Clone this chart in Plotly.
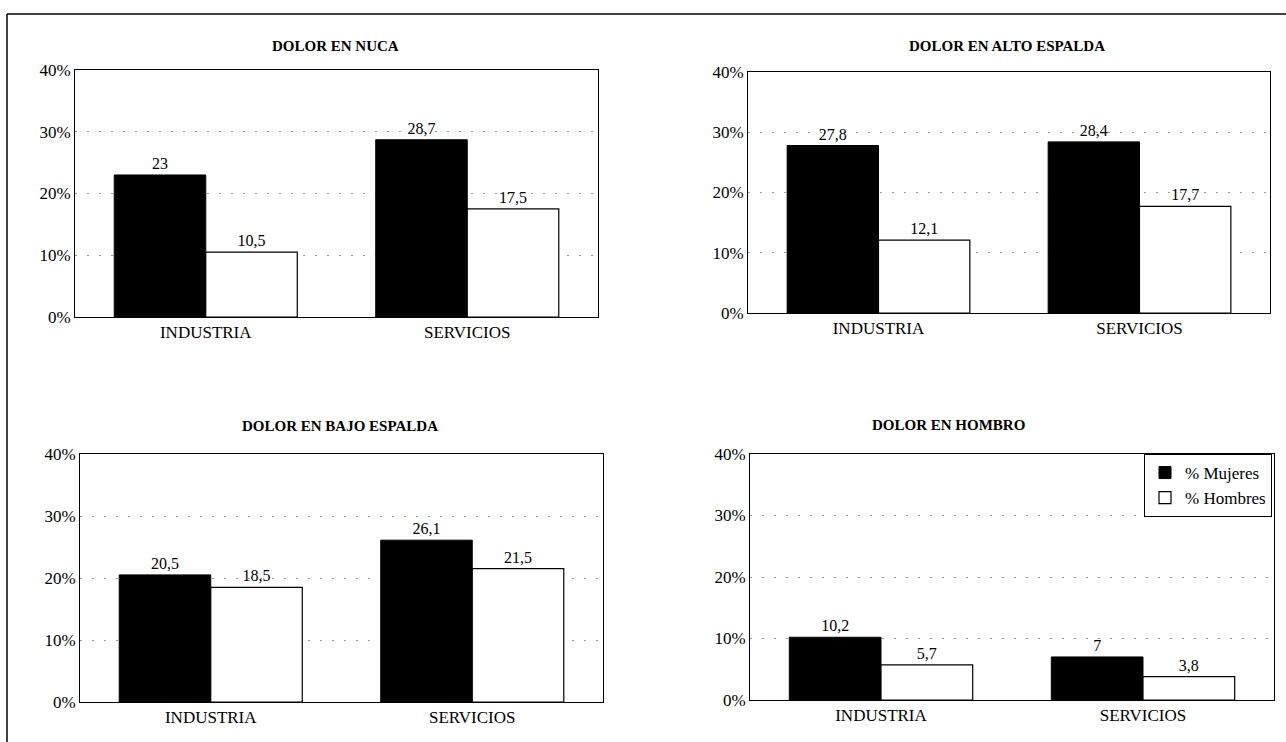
import plotly.graph_objects as go

W, H = 1286, 742

categories = ["INDUSTRIA", "SERVICIOS"]
panel_titles = ["DOLOR EN NUCA", "DOLOR EN ALTO ESPALDA", "DOLOR EN BAJO ESPALDA", "DOLOR EN HOMBRO"]
series_names = ["% Mujeres", "% Hombres"]

mujeres_nuca = [23, 28.7]
hombres_nuca = [10.5, 17.5]
mujeres_alto = [27.8, 28.4]
hombres_alto = [12.1, 17.7]
mujeres_bajo = [20.5, 26.1]
hombres_bajo = [18.5, 21.5]
mujeres_hombro = [10.2, 7]
hombres_hombro = [5.7, 3.8]

y_ticks = [0, 10, 20, 30, 40]
y_tick_labels = ["0%", "10%", "20%", "30%", "40%"]

panels = [
    (mujeres_nuca, hombres_nuca),
    (mujeres_alto, hombres_alto),
    (mujeres_bajo, hombres_bajo),
    (mujeres_hombro, hombres_hombro),
]

# pixel boxes: (left, right, top, bottom)
boxes = [
    (75, 598, 70, 317),
    (748, 1270, 72, 313),
    (80, 603, 454, 702),
    (750, 1274, 454, 700),
]
title_pos = [(335, 46), (1007, 46), (340, 426), (948, 425)]

FONT = "Liberation Serif, Times New Roman, serif"


def fmt(v):
    return f"{v:g}".replace(".", ",")


fig = go.Figure()
for i, (muj, hom) in enumerate(panels):
    ax = "" if i == 0 else str(i + 1)
    common = dict(xaxis="x" + ax, yaxis="y" + ax, textposition="outside",
                  cliponaxis=False, textfont=dict(family=FONT, size=16, color="black"),
                  showlegend=(i == 3))
    fig.add_trace(go.Bar(x=categories, y=muj, name=series_names[0],
                         text=[fmt(v) for v in muj],
                         marker=dict(color="black", line=dict(color="black", width=1)),
                         **common))
    fig.add_trace(go.Bar(x=categories, y=hom, name=series_names[1],
                         text=[fmt(v) for v in hom],
                         marker=dict(color="white", line=dict(color="black", width=1.2)),
                         **common))
    l, r, t, b = boxes[i]
    fig.update_layout(**{
        "xaxis" + ax: dict(domain=[l / W, r / W], anchor="y" + ax, automargin=False,
                           showline=True, linecolor="black", linewidth=1, mirror=True,
                           ticks="", showgrid=False,
                           tickfont=dict(family=FONT, size=17, color="black")),
        "yaxis" + ax: dict(domain=[1 - b / H, 1 - t / H], anchor="x" + ax, automargin=False,
                           range=[0, 40], tickmode="array", tickvals=y_ticks,
                           ticktext=y_tick_labels,
                           showline=True, linecolor="black", linewidth=1, mirror=True,
                           ticks="", showgrid=True, gridcolor="#999999", griddash="2px,10px",
                           gridwidth=1, zeroline=False,
                           tickfont=dict(family=FONT, size=17, color="black")),
    })
    tx, ty = title_pos[i]
    fig.add_annotation(x=tx / W, y=1 - ty / H, xref="paper", yref="paper",
                       text="<b>" + panel_titles[i] + "</b>", showarrow=False,
                       font=dict(family=FONT, size=15, color="black"),
                       xanchor="center", yanchor="middle")

# outer frame (top and left edges visible)
fig.add_shape(type="line", xref="paper", yref="paper", x0=7 / W, x1=1.01,
              y0=1 - 14 / H, y1=1 - 14 / H, line=dict(color="black", width=1.5))
fig.add_shape(type="line", xref="paper", yref="paper", x0=7 / W, x1=7 / W,
              y0=-0.01, y1=1 - 14 / H, line=dict(color="black", width=1.5))

fig.update_layout(
    width=W, height=H, autosize=False,
    margin=dict(l=0, r=0, t=0, b=0, pad=0, autoexpand=False),
    paper_bgcolor="white", plot_bgcolor="white",
    barmode="group", bargap=0.3, bargroupgap=0,
    font=dict(family=FONT, color="black"),
    legend=dict(x=1272 / W, y=1 - 454 / H, xanchor="right", yanchor="top",
                bgcolor="white", bordercolor="black", borderwidth=1,
                font=dict(family=FONT, size=17, color="black"),
                tracegroupgap=0, itemwidth=30),
)

fig.write_html(
    "out.html",
    config={"displayModeBar": False, "responsive": False},
    post_script=(
        "document.body.style.margin='0px';document.body.style.padding='0px';"
        "var d=document.getElementById('{plot_id}');"
        "d.style.position='absolute';d.style.top='0px';d.style.left='0px';"
    ),
)
